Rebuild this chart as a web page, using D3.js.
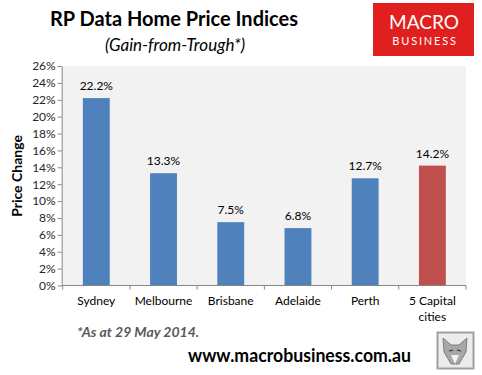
<!DOCTYPE html>
<html>
<head>
<meta charset="utf-8">
<script src="https://cdn.jsdelivr.net/npm/d3@7"></script>
<style>
  body { margin: 0; background: #fff; }
  svg text { font-family: Lato, "Open Sans", sans-serif; }
</style>
</head>
<body>
<div id="chart"></div>
<script>
var cities = ['Sydney', 'Melbourne', 'Brisbane', 'Adelaide', 'Perth', '5 Capital cities'];
var gains = [22.2, 13.3, 7.5, 6.8, 12.7, 14.2];
var yTicks = [0, 2, 4, 6, 8, 10, 12, 14, 16, 18, 20, 22, 24, 26];

var width = 482, height = 375;
var plot = {left: 62.7, right: 466, top: 66, bottom: 285.5};

var svg = d3.select('#chart')
    .append('svg')
    .attr('width', width)
    .attr('height', height);

var x = d3.scaleBand()
    .domain(cities)
    .range([plot.left, plot.right])
    .paddingInner(0.6)
    .paddingOuter(0.3);

var y = d3.scaleLinear()
    .domain([0, 26])
    .range([plot.bottom, plot.top]);

// plot area background
svg.append('rect')
    .attr('x', plot.left)
    .attr('y', plot.top)
    .attr('width', plot.right - plot.left)
    .attr('height', plot.bottom - plot.top)
    .attr('fill', '#f2f2f2');

// bars
svg.selectAll('rect.bar')
    .data(gains)
    .enter()
    .append('rect')
    .attr('class', 'bar')
    .attr('x', function(d, i){ return x(cities[i]); })
    .attr('y', function(d){ return y(d); })
    .attr('width', x.bandwidth())
    .attr('height', function(d){ return y(0) - y(d); })
    .attr('fill', function(d, i){ return i === cities.length - 1 ? '#c0504d' : '#4f81bd'; });

// value labels
svg.selectAll('text.val')
    .data(gains)
    .enter()
    .append('text')
    .attr('class', 'val')
    .attr('x', function(d, i){ return x(cities[i]) + x.bandwidth() / 2; })
    .attr('y', function(d){ return y(d) - 8; })
    .attr('text-anchor', 'middle')
    .attr('font-size', 12)
    .attr('fill', '#000')
    .text(function(d){ return d.toFixed(1) + '%'; });

// y axis
var yAxis = svg.append('g')
    .attr('transform', 'translate(' + (plot.left - 1) + ',0)')
    .call(d3.axisLeft(y).tickValues(yTicks).tickSize(4).tickSizeOuter(0)
        .tickFormat(function(d){ return d + '%'; }));
yAxis.select('.domain').attr('stroke', '#868686');
yAxis.selectAll('.tick line').attr('stroke', '#868686');
yAxis.selectAll('.tick text')
    .attr('font-size', 12)
    .attr('font-family', 'Lato, "Open Sans", sans-serif')
    .attr('fill', '#262626')
    .attr('x', -6);

// x axis line and boundary ticks
svg.append('line')
    .attr('x1', plot.left - 1).attr('x2', plot.right)
    .attr('y1', plot.bottom).attr('y2', plot.bottom)
    .attr('stroke', '#868686');

svg.selectAll('line.xtick')
    .data(d3.range(cities.length + 1))
    .enter()
    .append('line')
    .attr('class', 'xtick')
    .attr('x1', function(i){ return plot.left + i * (plot.right - plot.left) / cities.length; })
    .attr('x2', function(i){ return plot.left + i * (plot.right - plot.left) / cities.length; })
    .attr('y1', plot.bottom)
    .attr('y2', plot.bottom + 4)
    .attr('stroke', '#868686');

// category labels (wrap "5 Capital cities")
svg.selectAll('text.cat')
    .data(cities)
    .enter()
    .append('text')
    .attr('class', 'cat')
    .attr('x', function(d){ return x(d) + x.bandwidth() / 2; })
    .attr('y', 305)
    .attr('text-anchor', 'middle')
    .attr('font-size', 12)
    .attr('fill', '#000')
    .each(function(d){
        var parts = d === '5 Capital cities' ? ['5 Capital', 'cities'] : [d];
        var t = d3.select(this);
        parts.forEach(function(p, k){
            t.append('tspan')
                .attr('x', x(d) + x.bandwidth() / 2)
                .attr('dy', k === 0 ? 0 : 16)
                .text(p);
        });
    });

// y axis title
svg.append('text')
    .attr('transform', 'translate(22,176) rotate(-90)')
    .attr('text-anchor', 'middle')
    .attr('font-size', 14)
    .attr('font-weight', 'bold')
    .attr('fill', '#000')
    .text('Price Change');

// titles
svg.append('text')
    .attr('x', 174)
    .attr('y', 26)
    .attr('text-anchor', 'middle')
    .attr('font-size', 20)
    .attr('font-weight', 'bold')
    .attr('fill', '#000')
    .text('RP Data Home Price Indices');

svg.append('text')
    .attr('x', 175)
    .attr('y', 51)
    .attr('text-anchor', 'middle')
    .attr('font-size', 17)
    .attr('font-style', 'italic')
    .attr('fill', '#000')
    .text('(Gain-from-Trough*)');

// logo
var logo = svg.append('g');
logo.append('rect')
    .attr('x', 373).attr('y', 3)
    .attr('width', 101).attr('height', 53)
    .attr('fill', '#e0201f');
logo.append('text')
    .attr('x', 424).attr('y', 28.5)
    .attr('text-anchor', 'middle')
    .attr('font-size', 19)
    .attr('font-family', '"Liberation Sans", sans-serif')
    .attr('fill', '#fff')
    .text('MACRO');
logo.append('text')
    .attr('x', 425).attr('y', 44.5)
    .attr('text-anchor', 'middle')
    .attr('font-size', 11)
    .attr('letter-spacing', 1.8)
    .attr('font-family', '"Liberation Sans", sans-serif')
    .attr('fill', '#fff')
    .text('BUSINESS');

// footnote and url
svg.append('text')
    .attr('x', 77)
    .attr('y', 337)
    .attr('font-size', 14)
    .attr('font-weight', 'bold')
    .attr('font-style', 'italic')
    .attr('fill', '#595959')
    .text('*As at 29 May 2014.');

svg.append('text')
    .attr('x', 188)
    .attr('y', 362)
    .attr('font-size', 18.5)
    .attr('font-weight', 'bold')
    .attr('fill', '#000')
    .attr('textLength', 223)
    .attr('lengthAdjust', 'spacingAndGlyphs')
    .text('www.macrobusiness.com.au');

// wolf thumbnail
var wolf = svg.append('g');
wolf.append('rect')
    .attr('x', 437.5).attr('y', 332.5)
    .attr('width', 36).attr('height', 36)
    .attr('fill', '#ececec')
    .attr('stroke', '#a0a0a0')
    .attr('stroke-width', 2);
wolf.append('path')
    .attr('d', 'M443,338 L451,345 L459,345 L467,338 L466,352 L459,364 L451,364 L444,352 Z')
    .attr('fill', '#a8a8a8')
    .attr('stroke', '#6a6a6a')
    .attr('stroke-width', 0.8);
wolf.append('path')
    .attr('d', 'M449,351 L453,350 M457,350 L461,351')
    .attr('stroke', '#333')
    .attr('stroke-width', 1.2);
wolf.append('path')
    .attr('d', 'M451,355 L455,364 L459,355 Z')
    .attr('fill', '#f2f2f2');
</script>
</body>
</html>
